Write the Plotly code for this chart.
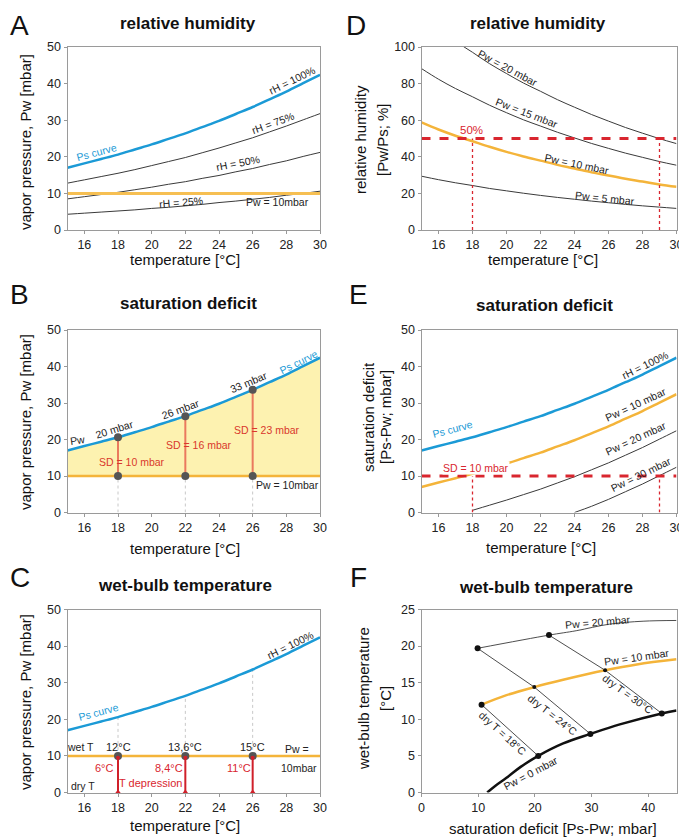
import plotly.graph_objects as go

# ---------------- data ----------------
temps = [15, 16, 17, 18, 19, 20, 21, 22, 23, 24, 25, 26, 27, 28, 29, 30]
ps = [17.0, 18.2, 19.4, 20.6, 22.0, 23.4, 24.9, 26.4, 28.1, 29.8, 31.7, 33.6, 35.7, 37.8, 40.1, 42.4]
rh75 = [12.8, 13.7, 14.6, 15.5, 16.5, 17.6, 18.7, 19.8, 21.1, 22.4, 23.8, 25.2, 26.8, 28.4, 30.1, 31.8]
rh50 = [8.5, 9.1, 9.7, 10.3, 11.0, 11.7, 12.5, 13.2, 14.1, 14.9, 15.9, 16.8, 17.9, 18.9, 20.1, 21.2]
rh25 = [4.3, 4.6, 4.9, 5.2, 5.5, 5.9, 6.2, 6.6, 7.0, 7.5, 7.9, 8.4, 8.9, 9.5, 10.0, 10.6]
pw_line_x = [15, 30]
pw_line_y = [10, 10]

# panel D: relative humidity for constant Pw
d_pw20 = [117.6, 109.9, 103.1, 97.1, 90.9, 85.5, 80.3, 75.8, 71.2, 67.1, 63.1, 59.5, 56.0, 52.9, 49.9, 47.2]
d_pw15 = [88.2, 82.4, 77.3, 72.8, 68.2, 64.1, 60.2, 56.8, 53.4, 50.3, 47.3, 44.6, 42.0, 39.7, 37.4, 35.4]
d_pw10 = [58.8, 54.9, 51.5, 48.5, 45.5, 42.7, 40.2, 37.9, 35.6, 33.6, 31.5, 29.8, 28.0, 26.5, 24.9, 23.6]
d_pw5 = [29.4, 27.5, 25.8, 24.3, 22.7, 21.4, 20.1, 18.9, 17.8, 16.8, 15.8, 14.9, 14.0, 13.2, 12.5, 11.8]
d_ref_rh = [50, 50]
d_marks_x = [18, 29]

# panel B: saturation deficit examples
b_temps = [18, 22, 26]
b_ps = [20.6, 26.4, 33.6]
b_pw = [10, 10, 10]
b_ps_labels = ["20 mbar", "26 mbar", "33 mbar"]
b_sd_labels = ["SD = 10 mbar", "SD = 16 mbar", "SD = 23 mbar"]

# panel E: saturation deficit for constant Pw
e_pw10 = [7.0, 8.2, 9.4, 10.6, 12.0, 13.4, 14.9, 16.4, 18.1, 19.8, 21.7, 23.6, 25.7, 27.8, 30.1, 32.4]
e_pw20_t = [18, 19, 20, 21, 22, 23, 24, 25, 26, 27, 28, 29, 30]
e_pw20 = [0.6, 2.0, 3.4, 4.9, 6.4, 8.1, 9.8, 11.7, 13.6, 15.7, 17.8, 20.1, 22.4]
e_pw30_t = [24, 25, 26, 27, 28, 29, 30]
e_pw30 = [0.0, 1.7, 3.6, 5.7, 7.8, 10.1, 12.4]
e_ref_sd = [10, 10]
e_marks_x = [18, 29]

# panel C: wet-bulb temperatures
c_dry = [18, 22, 26]
c_ps = [20.6, 26.4, 33.6]
c_wet_labels = ["12°C", "13,6°C", "15°C"]
c_dep_labels = ["6°C", "8,4°C", "11°C"]

# panel F: wet-bulb vs saturation deficit
f_pw0_x = [11.6, 13.0, 15.0, 17.5, 20.6, 25.0, 29.8, 35.0, 42.4, 45.0]
f_pw0_y = [0.0, 0.9, 2.0, 3.5, 5.0, 6.7, 8.0, 9.3, 10.8, 11.2]
f_pw10_x = [10.6, 15.0, 19.9, 25.0, 32.4, 38.0, 45.0]
f_pw10_y = [12.0, 13.3, 14.4, 15.4, 16.7, 17.5, 18.2]
f_pw20_x = [9.9, 22.5, 27.3, 33.2, 39.1, 45.0]
f_pw20_y = [19.7, 21.5, 22.1, 23.0, 23.4, 23.5]
f_dry18_x = [10.6, 20.6]
f_dry18_y = [12.0, 5.0]
f_dry24_x = [9.9, 19.9, 29.8]
f_dry24_y = [19.7, 14.4, 8.0]
f_dry30_x = [22.5, 32.4, 42.4]
f_dry30_y = [21.5, 16.7, 10.8]
f_big_dots_x = [9.9, 22.5, 10.6, 20.6, 29.8, 42.4]
f_big_dots_y = [19.7, 21.5, 12.0, 5.0, 8.0, 10.8]
f_small_dots_x = [19.9, 32.4]
f_small_dots_y = [14.4, 16.7]

# ---------------- style ----------------
W, H = 687, 837
OFF = 8  # page body margin
FONT = "Liberation Sans, Arial, sans-serif"
BLUE = "#1b9ad6"
ORANGE = "#f4b43a"
RED = "#d9262f"
SALMON = "#ea7a5e"
DARK = "#3a3a3a"
GREY_DOT = "#555555"
YELLOW = "rgba(253,242,176,1)"
LS = 10.5  # inline label size


def px(x):
    return (x - OFF) / W


def py(y):
    return 1 - (y - OFF) / H


def ax_ids(n):
    s = "" if n == 1 else str(n)
    return "x" + s, "y" + s


fig = go.Figure()


def add(n, x, y, color=DARK, width=1, dash=None, shape="spline", mode="lines",
        marker=None, fill=None, fillcolor=None, clip=True):
    xa, ya = ax_ids(n)
    fig.add_trace(go.Scatter(
        x=x, y=y, mode=mode, xaxis=xa, yaxis=ya,
        line=dict(color=color, width=width, dash=dash, shape=shape),
        marker=marker, fill=fill, fillcolor=fillcolor,
        hoverinfo="skip", showlegend=False, cliponaxis=clip))


annotations = []


def lab(n, x, y, text, angle=0, color="#222", size=LS, **kw):
    xa, ya = ax_ids(n)
    d = dict(xref=xa, yref=ya, x=x, y=y, text=text, textangle=angle, showarrow=False,
             font=dict(size=size, color=color, family=FONT),
             xanchor="center", yanchor="middle")
    d.update(kw)
    annotations.append(d)


def plab(x, y, text, size=15, angle=0, bold=False, xanchor="center", yanchor="middle"):
    annotations.append(dict(
        xref="paper", yref="paper", x=max(px(x), 0), y=min(py(y), 1),
        text=("<b>%s</b>" % text) if bold else text, textangle=angle, showarrow=False,
        font=dict(size=size, color="#111", family=FONT),
        xanchor=xanchor, yanchor=yanchor))


# ---------------- Panel A (1) ----------------
add(1, temps, rh25)
add(1, temps, rh50)
add(1, temps, rh75)
add(1, pw_line_x, pw_line_y, color="#f6bf52", width=3, shape="linear")
add(1, temps, ps, color=BLUE, width=2.5)
lab(1, 16.73, 21.4, "Ps curve", -15, color=BLUE)
lab(1, 28.36, 41.0, "rH = 100%", -26)
lab(1, 27.18, 29.15, "rH = 75%", -20)
lab(1, 25.1, 18.2, "rH = 50%", -11)
lab(1, 21.76, 7.7, "rH = 25%", -5)
lab(1, 27.47, 7.7, "Pw = 10mbar")

# ---------------- Panel D (2) ----------------
add(2, temps, d_pw20)
add(2, temps, d_pw15)
add(2, temps, d_pw5)
add(2, temps, d_pw10, color=ORANGE, width=2.5)
add(2, pw_line_x, d_ref_rh, color=RED, width=3, dash="dash", shape="linear")
for xm in d_marks_x:
    add(2, [xm, xm], [0, 50], color=RED, width=1.3, dash="dot", shape="linear")
lab(2, 20.09, 88.4, "Pw = 20 mbar", 28)
lab(2, 21.22, 63.8, "Pw = 15 mbar", 21)
lab(2, 17.93, 54.6, "50%", color=RED, size=11.5)
lab(2, 24.17, 35.9, "Pw = 10 mbar", 12)
lab(2, 25.78, 17.3, "Pw = 5 mbar", 6)

# ---------------- Panel B (3) ----------------
add(3, temps, [10] * len(temps), color="rgba(0,0,0,0)", width=0, shape="linear")
add(3, temps, ps, color="rgba(0,0,0,0)", width=0, fill="tonexty", fillcolor=YELLOW)
for xt in b_temps:
    add(3, [xt, xt], [0, 10], color="#c8c8c8", width=1, dash="dot", shape="linear")
add(3, pw_line_x, pw_line_y, color=ORANGE, width=2.5, shape="linear")
add(3, temps, ps, color=BLUE, width=2.5)
for xt, yp, yw in zip(b_temps, b_ps, b_pw):
    add(3, [xt, xt], [yw, yp], color=SALMON, width=2, shape="linear")
add(3, b_temps + b_temps, b_ps + b_pw, mode="markers",
    marker=dict(color=GREY_DOT, size=8))
lab(3, 15.58, 19.9, "Pw", -8)
lab(3, 17.81, 22.8, b_ps_labels[0], -17)
lab(3, 21.72, 28.3, b_ps_labels[1], -20)
lab(3, 25.76, 35.8, b_ps_labels[2], -23)
lab(3, 28.7, 41.3, "Ps curve", -26, color=BLUE)
lab(3, 18.83, 13.9, b_sd_labels[0], color="#d9382c")
lab(3, 22.84, 18.5, b_sd_labels[1], color="#d9382c")
lab(3, 26.88, 22.6, b_sd_labels[2], color="#d9382c")
lab(3, 28.07, 7.5, "Pw = 10mbar")

# ---------------- Panel E (4) ----------------
add(4, e_pw20_t, e_pw20)
add(4, e_pw30_t, e_pw30)
add(4, temps, e_pw10, color=ORANGE, width=2.5)
add(4, temps, ps, color=BLUE, width=2.5)
add(4, pw_line_x, e_ref_sd, color=RED, width=3, dash="dash", shape="linear")
for xm in e_marks_x:
    add(4, [xm, xm], [0, 10], color=RED, width=1.3, dash="dot", shape="linear")
lab(4, 16.81, 22.9, "Ps curve", -15, color=BLUE)
lab(4, 28.13, 40.4, "rH = 100%", -26)
lab(4, 27.64, 29.6, "Pw = 10 mbar", -25)
lab(4, 27.64, 20.4, "Pw = 20 mbar", -25)
lab(4, 27.93, 10.6, "Pw = 30 mbar", -26)
lab(4, 18.2, 12.3, "SD = 10 mbar", color=RED, bgcolor="white", borderpad=0)

# ---------------- Panel C (5) ----------------
for xt, yp in zip(c_dry, c_ps):
    add(5, [xt, xt], [10, yp], color="#c8c8c8", width=1, dash="dot", shape="linear")
add(5, pw_line_x, pw_line_y, color=ORANGE, width=2.5, shape="linear")
add(5, temps, ps, color=BLUE, width=2.5)
add(5, c_dry, [10, 10, 10], mode="markers", marker=dict(color=GREY_DOT, size=8))
for xt in c_dry:
    add(5, [xt, xt], [0, 10], color="#d0202a", width=2, shape="linear", clip=False)
add(5, c_dry, [0, 0, 0], mode="markers",
    marker=dict(color="#d0202a", size=6, symbol="triangle-up"), clip=False)
add(5, c_dry, [9.5, 9.5, 9.5], mode="markers",
    marker=dict(color="#d0202a", size=4), clip=False)
lab(5, 16.82, 21.9, "Ps curve", -15, color=BLUE)
lab(5, 28.21, 40.4, "rH = 100%", -26)
lab(5, 15.78, 12.3, "wet T")
lab(5, 15.9, 1.8, "dry T")
lab(5, 18, 12.4, c_wet_labels[0], size=11)
lab(5, 22, 12.4, c_wet_labels[1], size=11)
lab(5, 26, 12.4, c_wet_labels[2], size=11)
lab(5, 17.22, 6.6, c_dep_labels[0], color=RED, size=11)
lab(5, 21.0, 6.6, c_dep_labels[1], color=RED, size=11)
lab(5, 25.17, 6.6, c_dep_labels[2], color=RED, size=11)
lab(5, 19.94, 2.6, "T depression", color=RED, size=11)
lab(5, 28.66, 11.9, "Pw =")
lab(5, 28.76, 6.6, "10mbar")

# ---------------- Panel F (6) ----------------
add(6, f_dry18_x, f_dry18_y, color=DARK, width=0.9, shape="linear")
add(6, f_dry24_x, f_dry24_y, color=DARK, width=0.9, shape="linear")
add(6, f_dry30_x, f_dry30_y, color=DARK, width=0.9, shape="linear")
add(6, f_pw20_x, f_pw20_y, color=DARK, width=0.9)
add(6, f_pw10_x, f_pw10_y, color=ORANGE, width=2.5)
add(6, f_pw0_x, f_pw0_y, color="#111", width=2.5)
add(6, f_big_dots_x, f_big_dots_y, mode="markers", marker=dict(color="#111", size=6))
add(6, f_small_dots_x, f_small_dots_y, mode="markers", marker=dict(color="#111", size=4))
lab(6, 31.06, 23.3, "Pw = 20 mbar", -5)
lab(6, 38.1, 18.5, "Pw = 10 mbar", -8)
lab(6, 19.3, 2.6, "Pw = 0 mbar", -28)
lab(6, 14.3, 8.1, "dry T = 18°C", 42)
lab(6, 23.2, 10.6, "dry T = 24°C", 38)
lab(6, 36.4, 13.4, "dry T = 30°C", 36)

# ---------------- panel letters, titles, axis titles ----------------
plab(8, 8, "A", size=28, xanchor="left", yanchor="top")
plab(8, 277, "B", size=28, xanchor="left", yanchor="top")
plab(8, 560, "C", size=28, xanchor="left", yanchor="top")
plab(356, 8, "D", size=28, yanchor="top")
plab(358, 277, "E", size=28, yanchor="top")
plab(358, 560, "F", size=28, yanchor="top")

plab(188, 24, "relative humidity", size=17, bold=True)
plab(538, 24, "relative humidity", size=17, bold=True)
plab(188, 303, "saturation deficit", size=17, bold=True)
plab(544, 305, "saturation deficit", size=17, bold=True)
plab(185, 585, "wet-bulb temperature", size=17, bold=True)
plab(546, 587, "wet-bulb temperature", size=17, bold=True)

plab(185, 259, "temperature [°C]")
plab(543, 259, "temperature [°C]")
plab(185, 548, "temperature [°C]")
plab(541, 547, "temperature [°C]")
plab(185, 825, "temperature [°C]")
plab(553, 828, "saturation deficit [Ps-Pw; mbar]")

plab(25, 142, "vapor pressure, Pw [mbar]", angle=-90)
plab(25, 422, "vapor pressure, Pw [mbar]", angle=-90)
plab(25, 702, "vapor pressure, Pw [mbar]", angle=-90)
plab(361, 140, "relative humidity", angle=-90)
plab(383, 140, "[Pw/Ps; %]", angle=-90)
plab(368, 417, "saturation deficit", angle=-90)
plab(385, 417, "[Ps-Pw; mbar]", angle=-90)
plab(363, 699, "wet-bulb temperature", angle=-90)
plab(385, 699, "[°C]", angle=-90)

# ---------------- axes ----------------
LX = [px(67.5), px(320)]
RX = [px(421.5), px(676.5)]
R1 = [py(230), py(47)]
R2 = [py(512.5), py(330)]
R3 = [py(792.5), py(609.5)]


def axis(domain, anchor, rng, tickvals):
    return dict(domain=domain, anchor=anchor, range=rng, tickvals=tickvals,
                ticks="outside", ticklen=3, tickcolor="#999", tickwidth=1,
                showline=True, linecolor="#9a9a9a", linewidth=1, mirror=True,
                showgrid=False, zeroline=False, fixedrange=True, automargin=False,
                tickfont=dict(size=12.5, color="#222", family=FONT))


tx = list(range(16, 31, 2))
layout_axes = {
    "xaxis": axis(LX, "y", [15, 30], tx), "yaxis": axis(R1, "x", [0, 50], [0, 10, 20, 30, 40, 50]),
    "xaxis2": axis(RX, "y2", [15, 30], tx), "yaxis2": axis(R1, "x2", [0, 100], [0, 20, 40, 60, 80, 100]),
    "xaxis3": axis(LX, "y3", [15, 30], tx), "yaxis3": axis(R2, "x3", [0, 50], [0, 10, 20, 30, 40, 50]),
    "xaxis4": axis(RX, "y4", [15, 30], tx), "yaxis4": axis(R2, "x4", [0, 50], [0, 10, 20, 30, 40, 50]),
    "xaxis5": axis(LX, "y5", [15, 30], tx), "yaxis5": axis(R3, "x5", [0, 50], [0, 10, 20, 30, 40, 50]),
    "xaxis6": axis(RX, "y6", [0, 45], [0, 10, 20, 30, 40]), "yaxis6": axis(R3, "x6", [0, 25], [0, 5, 10, 15, 20, 25]),
}

fig.update_layout(
    template="none",
    width=W, height=H, autosize=False,
    margin=dict(l=0, r=0, t=0, b=0, pad=0, autoexpand=False),
    paper_bgcolor="white", plot_bgcolor="white",
    showlegend=False,
    font=dict(family=FONT, color="#222"),
    annotations=annotations,
    **layout_axes,
)

fig.write_html("out.html")
